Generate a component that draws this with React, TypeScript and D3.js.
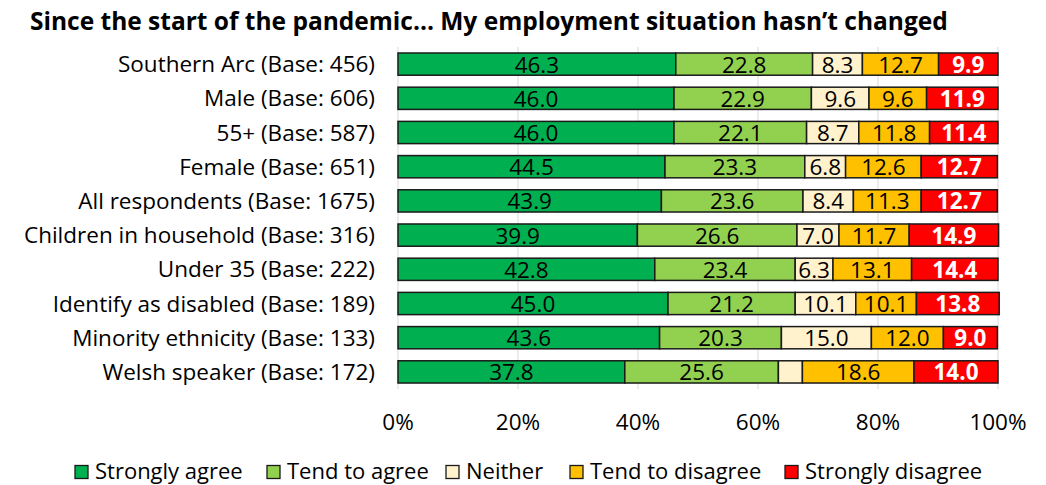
import React from "react";
import * as d3 from "d3";

const categories = [
  "Southern Arc (Base: 456)",
  "Male (Base: 606)",
  "55+ (Base: 587)",
  "Female (Base: 651)",
  "All respondents (Base: 1675)",
  "Children in household (Base: 316)",
  "Under 35 (Base: 222)",
  "Identify as disabled (Base: 189)",
  "Minority ethnicity (Base: 133)",
  "Welsh speaker (Base: 172)",
];
const stronglyAgree = [46.3, 46.0, 46.0, 44.5, 43.9, 39.9, 42.8, 45.0, 43.6, 37.8];
const tendToAgree = [22.8, 22.9, 22.1, 23.3, 23.6, 26.6, 23.4, 21.2, 20.3, 25.6];
const neither = [8.3, 9.6, 8.7, 6.8, 8.4, 7.0, 6.3, 10.1, 15.0, 4.0];
const tendToDisagree = [12.7, 9.6, 11.8, 12.6, 11.3, 11.7, 13.1, 10.1, 12.0, 18.6];
const stronglyDisagree = [9.9, 11.9, 11.4, 12.7, 12.7, 14.9, 14.4, 13.8, 9.0, 14.0];
const seriesNames = ["Strongly agree", "Tend to agree", "Neither", "Tend to disagree", "Strongly disagree"];
const seriesColors = ["#00B050", "#92D050", "#FFF2CC", "#FFC000", "#FF0000"];
const tickValues = [0, 20, 40, 60, 80, 100];
const title = "Since the start of the pandemic... My employment situation hasn\u2019t changed";

const FONT = "'Open Sans', sans-serif";
const FS = 22.5;

export default function App() {
  const W = 1046, H = 485;
  const x = d3.scaleLinear().domain([0, 100]).range([398, 998]);
  const y = d3.scaleBand<string>().domain(categories).range([47, 389]).paddingInner(0.35).paddingOuter(0.175);
  const allSeries = [stronglyAgree, tendToAgree, neither, tendToDisagree, stronglyDisagree];
  const rows = categories.map((c, i) => {
    const obj: any = { cat: c };
    seriesNames.forEach((s, k) => (obj[s] = allSeries[k][i]));
    return obj;
  });
  const stacked = d3.stack<any>().keys(seriesNames)(rows);
  const legendX = [75, 267, 446, 570, 785];

  return (
    <svg width={W} height={H} style={{ position: "absolute", left: 0, top: 0, background: "#fff" }}>
      <text x={30} y={30} fontFamily={FONT} fontWeight={700} fontSize={24.5} fill="#000">
        {title}
      </text>
      {tickValues.map((t) => (
        <line key={t} x1={x(t)} x2={x(t)} y1={47} y2={389} stroke="#d9d9d9" strokeWidth={1} />
      ))}
      {stacked.map((layer, k) => (
        <g key={layer.key}>
          {layer.map((d, i) => {
            const x0 = x(d[0]);
            const x1 = x(d[1]);
            const yy = y(categories[i])!;
            const v = allSeries[k][i];
            return (
              <g key={i}>
                <rect x={x0} y={yy} width={x1 - x0} height={y.bandwidth()} fill={seriesColors[k]} stroke="#1a1a1a" strokeWidth={1.5} />
                {v >= 5 && (
                  <text
                    x={(x0 + x1) / 2}
                    y={yy + y.bandwidth() / 2 + 8.5}
                    textAnchor="middle"
                    fontFamily={FONT}
                    fontSize={FS}
                    fontWeight={k === 4 ? 700 : 400}
                    fill={k === 4 ? "#fff" : "#000"}
                  >
                    {v.toFixed(1)}
                  </text>
                )}
              </g>
            );
          })}
        </g>
      ))}
      {categories.map((c) => (
        <text key={c} x={375} y={y(c)! + y.bandwidth() / 2 + 8} textAnchor="end" fontFamily={FONT} fontSize={FS} fill="#000">
          {c}
        </text>
      ))}
      {tickValues.map((t) => (
        <text key={t} x={x(t)} y={430} textAnchor="middle" fontFamily={FONT} fontSize={FS} fill="#000">
          {t}%
        </text>
      ))}
      {seriesNames.map((s, k) => (
        <g key={s}>
          <rect x={legendX[k]} y={465.5} width={13} height={13} fill={seriesColors[k]} stroke="#1a1a1a" strokeWidth={1.3} />
          <text x={legendX[k] + 20} y={478.5} fontFamily={FONT} fontSize={22} fill="#000">
            {s}
          </text>
        </g>
      ))}
    </svg>
  );
}
